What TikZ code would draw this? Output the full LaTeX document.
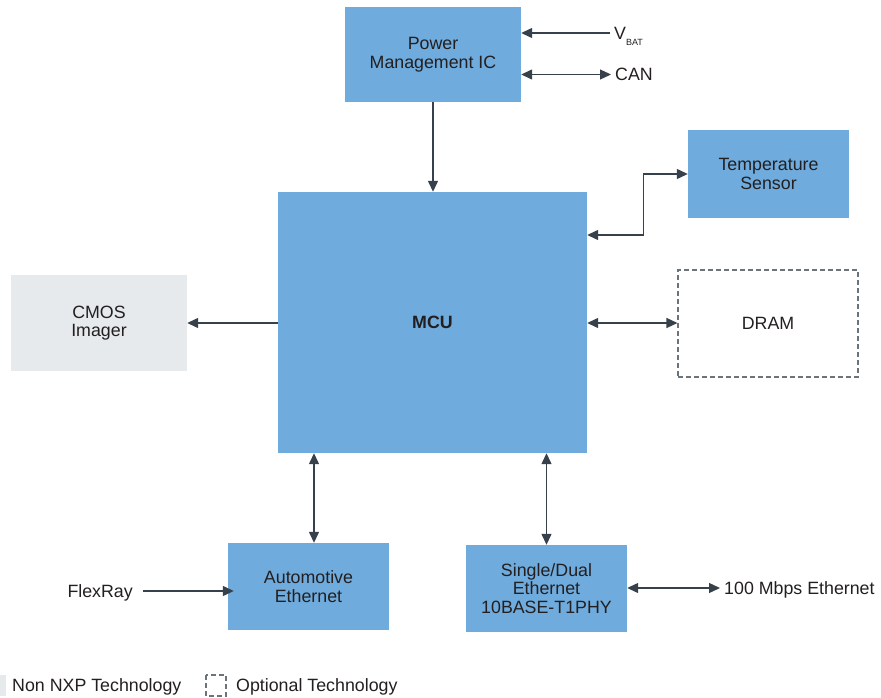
\documentclass[tikz,border=0pt]{standalone}
\usepackage{fontspec}
\setmainfont{Liberation Sans}
\usetikzlibrary{arrows.meta}
\definecolor{nxpblue}{HTML}{6FABDC}
\definecolor{nongray}{HTML}{E6EAED}
\definecolor{wirecol}{HTML}{37414B}
\definecolor{dashgray}{HTML}{6B737B}
\definecolor{ink}{HTML}{231F20}
\begin{document}
\begin{tikzpicture}[x=1pt,y=-1pt,
  >={Triangle[length=11pt,width=10pt]},
  every node/.style={font=\fontsize{17.8}{18.6}\selectfont, text=ink},
  block/.style={fill=nxpblue, align=center, inner sep=0pt},
  nonnxp/.style={fill=nongray, align=center, inner sep=0pt},
  optbox/.style={draw=dashgray, dash pattern=on 5pt off 3pt, line width=1.1pt},
  lbl/.style={inner xsep=4pt, inner ysep=0pt, text height=12.7pt, text depth=0pt},
  wire/.style={draw=wirecol, line width=1.3pt}]
\useasboundingbox (0,0) rectangle (881,698);
% blocks
\node[block, minimum width=176pt, minimum height=95pt] (pmic) at (433,54.5) {Power\\Management IC};
\node[block, minimum width=161pt, minimum height=88pt] (temp) at (768.5,174) {Temperature\\Sensor};
\node[block, minimum width=309pt, minimum height=261pt, font=\fontsize{17.8}{18.6}\selectfont\bfseries] (mcu) at (432.5,322.5) {MCU};
\node[nonnxp, minimum width=176pt, minimum height=96pt] (cmos) at (99,323) {CMOS\\Imager};
\node[optbox, align=center, minimum width=180pt, minimum height=107pt] (dram) at (768,323.5) {DRAM};
\node[block, minimum width=161pt, minimum height=87pt] (autoeth) at (308.5,586.5) {Automotive\\Ethernet};
\node[block, minimum width=161pt, minimum height=87pt] (ethphy) at (546.5,588.5) {Single/Dual\\Ethernet\\10BASE-T1PHY};
% outside signals
\node[lbl, anchor=west] (vbat) at (610,33) {V\raisebox{-6pt}{\fontsize{9}{9}\selectfont BAT}};
\node[lbl, anchor=west] (can) at (611,74.5) {CAN};
\node[lbl, anchor=east] (flexray) at (137,591) {FlexRay};
\node[lbl, anchor=west] (fast) at (720,588) {100 Mbps Ethernet};
% connectors
\draw[wire,->] (pmic.south) -- (pmic.south |- mcu.north);
\draw[wire,->] (vbat.west) -- (vbat.west -| pmic.east);
\draw[wire,<->] (pmic.east |- can.west) -- (can.west);
\draw[wire,<->] ([yshift=87.5pt]mcu.east) -- ++(56,0) |- (temp.west);
\draw[wire,->] (mcu.west |- cmos.east) -- (cmos.east);
\draw[wire,<->] (mcu.east |- cmos.east) -- (mcu.east |- cmos.east -| dram.west);
\draw[wire,<->] ([xshift=5.5pt]autoeth.north) -- ([xshift=5.5pt]autoeth.north |- mcu.south);
\draw[wire,<->] (ethphy.north) -- (ethphy.north |- mcu.south);
\draw[wire,->] ([xshift=6pt]flexray.east) -- ([xshift=6pt]flexray.east -| autoeth.west);
\draw[wire,<->] (ethphy.east |- fast.west) -- (fast.west);
% legend
\fill[nongray] (0,675) rectangle (6,696);
\node[lbl, anchor=west] (nonlbl) at (8,685) {Non NXP Technology};
\draw[optbox] (206,675) rectangle (226,696);
\node[lbl, anchor=west] (optlbl) at (232,685) {Optional Technology};
\end{tikzpicture}
\end{document}
